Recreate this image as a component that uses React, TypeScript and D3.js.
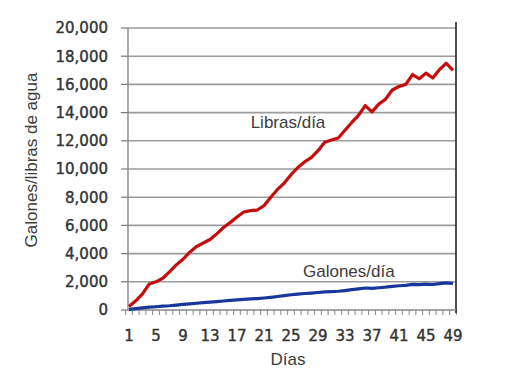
import React from "react";
import * as d3 from "d3";

const days: number[] = Array.from({ length: 49 }, (_, i) => i + 1);
const libras: number[] = [
  250, 650, 1150, 1850, 2000, 2250, 2700, 3200, 3600, 4100,
  4500, 4750, 5000, 5400, 5850, 6200, 6600, 6950, 7050, 7090,
  7400, 8000, 8550, 9000, 9600, 10100, 10500, 10800, 11300, 11900,
  12050, 12200, 12750, 13300, 13800, 14500, 14050, 14600, 14950, 15600,
  15850, 16000, 16700, 16400, 16800, 16450, 17050, 17500, 17000,
];
const galones: number[] = [
  50, 100, 150, 200, 230, 270, 300, 350, 400, 440,
  480, 520, 560, 600, 640, 680, 720, 760, 790, 810,
  850, 900, 960, 1020, 1080, 1130, 1170, 1200, 1240, 1280,
  1300, 1330, 1380, 1440, 1500, 1560, 1530, 1580, 1620, 1680,
  1720, 1750, 1820, 1800, 1840, 1810, 1870, 1920, 1880,
];
const yTicks: number[] = [0, 2000, 4000, 6000, 8000, 10000, 12000, 14000, 16000, 18000, 20000];
const xTickLabels: number[] = [1, 5, 9, 13, 17, 21, 25, 29, 33, 37, 41, 45, 49];

const W = 529;
const H = 383;
const left = 128;
const right = 456;
const top = 28;
const bottom = 310;

export default function App() {
  const x = d3.scaleLinear().domain([1, 49]).range([129, 453]);
  const y = d3.scaleLinear().domain([0, 20000]).range([bottom, top]);
  const line = d3
    .line<number>()
    .x((_, i) => x(days[i]))
    .y((d) => y(d))
    .curve(d3.curveLinear);
  const fmt = d3.format(",");
  const tickFont = "DejaVu Sans, sans-serif";
  const labelFont = "Liberation Sans, Arial, sans-serif";
  return (
    <svg
      width={W}
      height={H}
      style={{ position: "absolute", left: 0, top: 0, background: "#fff" }}
    >
      <rect x={0} y={0} width={W} height={H} fill="#fff" />
      {yTicks.map((t) => (
        <g key={t}>
          {t > 0 && (
            <line
              x1={left}
              x2={right}
              y1={y(t)}
              y2={y(t)}
              stroke="#9c9c9c"
              strokeWidth={1.6}
            />
          )}
          <line x1={121} x2={left} y1={y(t)} y2={y(t)} stroke="#777" strokeWidth={1.2} />
          <text
            x={108}
            y={y(t)}
            dy="0.36em"
            textAnchor="end"
            fontFamily={tickFont}
            fontSize={15}
            fill="#333"
            stroke="#333"
            strokeWidth={0.4}
          >
            {fmt(t)}
          </text>
        </g>
      ))}
      {days.map((d) => (
        <line
          key={d}
          x1={x(d) - 3.4}
          x2={x(d) - 3.4}
          y1={bottom}
          y2={bottom + 5}
          stroke="#888"
          strokeWidth={1}
        />
      ))}
      <line x1={x(49) + 3.4} x2={x(49) + 3.4} y1={bottom} y2={bottom + 5} stroke="#888" />
      {xTickLabels.map((d) => (
        <text
          key={d}
          x={x(d)}
          y={341}
          textAnchor="middle"
          fontFamily={tickFont}
          fontSize={15}
          fill="#333"
          stroke="#333"
          strokeWidth={0.4}
        >
          {d}
        </text>
      ))}
      <line x1={left} x2={left} y1={top} y2={bottom} stroke="#888" strokeWidth={1.4} />
      <line x1={right} x2={right} y1={top - 6} y2={bottom + 3} stroke="#222" strokeWidth={1.6} />
      <line x1={left} x2={right} y1={bottom} y2={bottom} stroke="#888" strokeWidth={1.4} />
      <path d={line(galones) || ""} fill="none" stroke="#17389a" strokeWidth={3.2} strokeLinejoin="round" />
      <path d={line(libras) || ""} fill="none" stroke="#c40e0e" strokeWidth={3.2} strokeLinejoin="round" />
      <text x={288} y={128} textAnchor="middle" fontFamily={labelFont} fontSize={17} fill="#3c3c3c">
        Libras/día
      </text>
      <text x={303} y={277} textAnchor="start" fontFamily={labelFont} fontSize={17} fill="#3c3c3c">
        Galones/día
      </text>
      <text
        transform="translate(37,160) rotate(-90)"
        textAnchor="middle"
        fontFamily={labelFont}
        fontSize={17}
        fill="#3c3c3c"
      >
        Galones/libras de agua
      </text>
      <text x={288} y={365} textAnchor="middle" fontFamily={labelFont} fontSize={17} fill="#3c3c3c">
        Días
      </text>
    </svg>
  );
}
